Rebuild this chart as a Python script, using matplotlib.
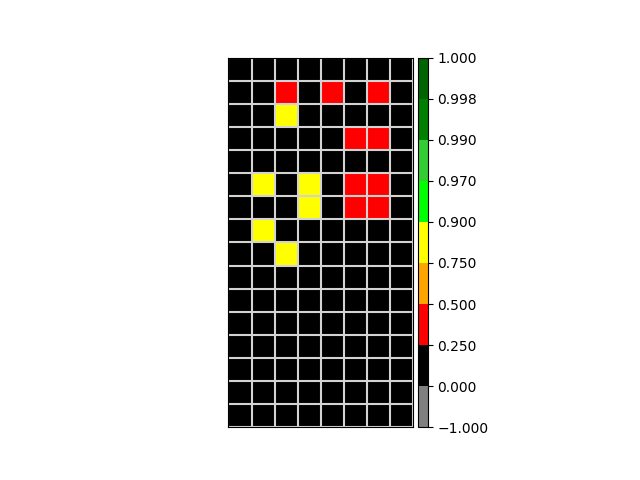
import numpy as np
import matplotlib
matplotlib.use("Agg")
import matplotlib.pyplot as plt
from matplotlib.colors import ListedColormap, BoundaryNorm
from matplotlib.ticker import FuncFormatter
from mpl_toolkits.axes_grid1 import make_axes_locatable

# colour classes and their bin edges
bounds = [-1.0, 0.0, 0.25, 0.5, 0.75, 0.9, 0.97, 0.99, 0.998, 1.0]
colors = ['gray', 'black', 'red', 'orange', 'yellow', 'lime',
          'limegreen', 'green', 'darkgreen']

# cell values, 16 rows x 8 columns (top row first)
values = np.array([
    [0.0, 0.0, 0.0, 0.0, 0.0, 0.0, 0.0, 0.0],
    [0.0, 0.0, 0.3, 0.0, 0.3, 0.0, 0.3, 0.0],
    [0.0, 0.0, 0.8, 0.0, 0.0, 0.0, 0.0, 0.0],
    [0.0, 0.0, 0.0, 0.0, 0.0, 0.3, 0.3, 0.0],
    [0.0, 0.0, 0.0, 0.0, 0.0, 0.0, 0.0, 0.0],
    [0.0, 0.8, 0.0, 0.8, 0.0, 0.3, 0.3, 0.0],
    [0.0, 0.0, 0.0, 0.8, 0.0, 0.3, 0.3, 0.0],
    [0.0, 0.8, 0.0, 0.0, 0.0, 0.0, 0.0, 0.0],
    [0.0, 0.0, 0.8, 0.0, 0.0, 0.0, 0.0, 0.0],
    [0.0, 0.0, 0.0, 0.0, 0.0, 0.0, 0.0, 0.0],
    [0.0, 0.0, 0.0, 0.0, 0.0, 0.0, 0.0, 0.0],
    [0.0, 0.0, 0.0, 0.0, 0.0, 0.0, 0.0, 0.0],
    [0.0, 0.0, 0.0, 0.0, 0.0, 0.0, 0.0, 0.0],
    [0.0, 0.0, 0.0, 0.0, 0.0, 0.0, 0.0, 0.0],
    [0.0, 0.0, 0.0, 0.0, 0.0, 0.0, 0.0, 0.0],
    [0.0, 0.0, 0.0, 0.0, 0.0, 0.0, 0.0, 0.0],
])

cmap = ListedColormap(colors)
norm = BoundaryNorm(bounds, cmap.N)

fig, ax = plt.subplots(figsize=(6.4, 4.8), dpi=100)
im = ax.imshow(values, cmap=cmap, norm=norm)

nrows, ncols = values.shape
ax.set_xticks(np.arange(-0.5, ncols, 1), minor=True)
ax.set_yticks(np.arange(-0.5, nrows, 1), minor=True)
ax.grid(which='minor', color='lightgray', linewidth=1.5)
ax.tick_params(which='both', bottom=False, left=False,
               labelbottom=False, labelleft=False)
ax.set_xticks([])
ax.set_yticks([])

divider = make_axes_locatable(ax)
cax = divider.append_axes("right", size="5%", pad=0.05)
fmt = FuncFormatter(lambda v, pos: ('%.3f' % v).replace('-', '\u2212'))
fig.colorbar(im, cax=cax, ticks=bounds, format=fmt)

fig.savefig("out.png")
